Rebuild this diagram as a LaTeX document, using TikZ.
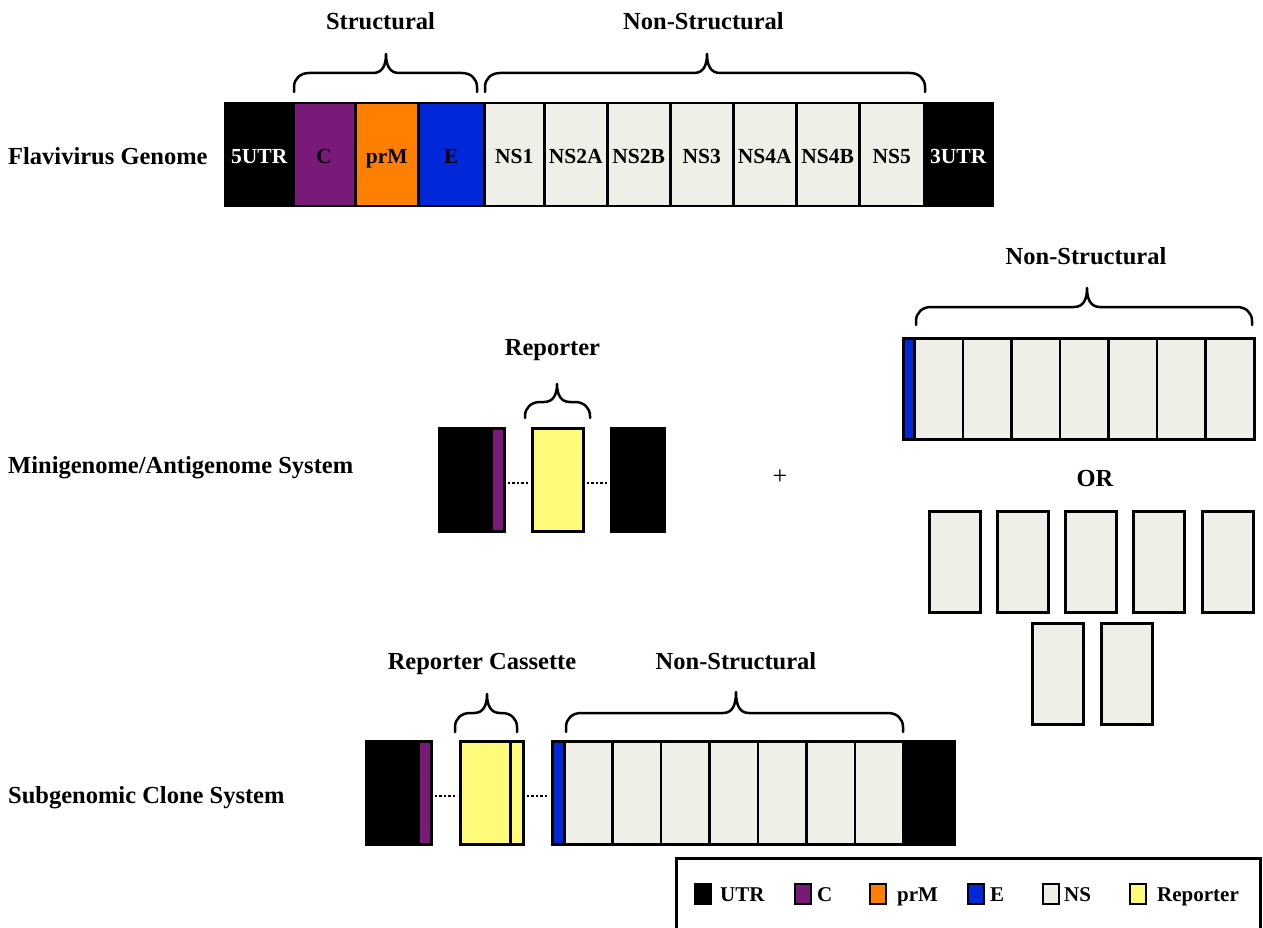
\documentclass[tikz,border=0pt]{standalone}
\usepackage{fontspec}
\setmainfont{Liberation Serif}
\definecolor{cpurple}{HTML}{7A1A78}
\definecolor{corange}{HTML}{FF7F00}
\definecolor{cblue}{HTML}{0028D8}
\definecolor{cns}{HTML}{EFEFE7}
\definecolor{cyellow}{HTML}{FFFB7A}
\tikzset{
  head/.style={font=\fontsize{24.5}{29}\selectfont\bfseries, inner sep=0pt, anchor=base},
  lab/.style={font=\fontsize{21.5}{25}\selectfont\bfseries, text height=17pt, text depth=0pt},
  box/.style={draw, line width=2.5pt, inner sep=0pt, anchor=north west, lab},
  bracestyle/.style={line width=2.5pt, line cap=round, line join=round},
  dots/.style={line width=2.5pt, dash pattern=on 2.5pt off 2pt},
  sw/.style={draw, line width=2pt, minimum width=16pt, minimum height=20pt, inner sep=0pt},
  leg/.style={font=\fontsize{21}{25}\selectfont\bfseries, inner sep=0pt, anchor=base west}
}
\newcommand{\bx}[7]{\node[box, fill=#5, minimum width=#3pt, minimum height=#4pt, #6] (#1) at (#2) {#7};}
\newcommand{\brc}[6]{\draw[bracestyle] (#1,#4) -- (#1,{#5+14}) .. controls (#1,{#5+6}) and ({#1+6},#5) .. ({#1+15},#5) -- ({#3-13},#5) .. controls ({#3-4},#5) and (#3,{#5-7}) .. (#3,#6) .. controls (#3,{#5-7}) and ({#3+4},#5) .. ({#3+13},#5) -- ({#2-15},#5) .. controls ({#2-6},#5) and (#2,{#5+6}) .. (#2,{#5+14}) -- (#2,#4);}
\begin{document}
\begin{tikzpicture}[x=1pt,y=-1pt]
\useasboundingbox (0,0) rectangle (1263,928);
\fill[white] (0,0) rectangle (1263,928);

% ---- Flavivirus genome ----
\node[head, anchor=base west] (lgen) at (8,165) {Flavivirus Genome};
\bx{g5}{224,102}{68}{103}{black}{text=white}{5UTR}
\bx{gc}{292,102}{62}{103}{cpurple}{}{C}
\bx{gprm}{354,102}{63}{103}{corange}{}{prM}
\bx{ge}{417,102}{66}{103}{cblue}{}{E}
\bx{gns1}{483,102}{60}{103}{cns}{}{NS1}
\bx{gns2a}{543,102}{63}{103}{cns}{}{NS2A}
\bx{gns2b}{606,102}{63}{103}{cns}{}{NS2B}
\bx{gns3}{669,102}{63}{103}{cns}{}{NS3}
\bx{gns4a}{732,102}{63}{103}{cns}{}{NS4A}
\bx{gns4b}{795,102}{63}{103}{cns}{}{NS4B}
\bx{gns5}{858,102}{65}{103}{cns}{}{NS5}
\bx{g3}{923,102}{68}{103}{black}{text=white}{3UTR}
\node[head] (hstr) at (380.5,30) {Structural};
\node[head] (hns1) at (703.5,30) {Non-Structural};
\brc{294}{477}{386}{92}{73}{54}
\brc{485}{925}{707}{92}{73}{54}

% ---- Minigenome ----
\node[head, anchor=base west] (lmini) at (8,473) {Minigenome/Antigenome System};
\bx{m5}{438,427}{52}{103}{black}{}{}
\bx{mc}{490,427}{13}{103}{cpurple}{}{}
\bx{mr}{531,427}{51}{103}{cyellow}{}{}
\bx{m3}{610,427}{53}{103}{black}{}{}
\draw[dots] ([yshift=-3pt,xshift=2pt]mc.east) -- ([yshift=-3pt,xshift=-2pt]mr.west);
\draw[dots] ([yshift=-3pt,xshift=2pt]mr.east) -- ([yshift=-3pt,xshift=-2pt]m3.west);
\node[head] (hrep) at (552.5,355) {Reporter};
\brc{525}{590}{557}{418}{402}{384}
\node[font=\fontsize{26}{30}\selectfont, inner sep=0pt] (plus) at (780,477) {+};

% ---- Right: non-structural ----
\node[head] (hns2) at (1086,264) {Non-Structural};
\brc{916}{1252}{1087}{325}{307}{288}
\bx{rb}{902,337}{11}{101}{cblue}{}{}
\foreach \k in {1,...,7} {\bx{rn\k}{{913+(\k-1)*48.57},337}{48.57}{101}{cns}{}{}}
\node[head] (hor) at (1095,486) {OR};
\bx{p1}{928,510}{51}{101}{cns}{}{}
\bx{p2}{996,510}{51}{101}{cns}{}{}
\bx{p3}{1064,510}{51}{101}{cns}{}{}
\bx{p4}{1132,510}{51}{101}{cns}{}{}
\bx{p5}{1201,510}{51}{101}{cns}{}{}
\bx{p6}{1031,622}{51}{101}{cns}{}{}
\bx{p7}{1100,622}{51}{101}{cns}{}{}

% ---- Subgenomic ----
\node[head, anchor=base west] (lsub) at (8,803) {Subgenomic Clone System};
\bx{s5}{365,740}{52}{103}{black}{}{}
\bx{sc}{417,740}{13}{103}{cpurple}{}{}
\bx{sr}{459,740}{50}{103}{cyellow}{}{}
\bx{sr2}{509,740}{13}{103}{cyellow}{}{}
\bx{se}{551,740}{12}{103}{cblue}{}{}
\foreach \k in {1,...,7} {\bx{sn\k}{{563+(\k-1)*48.43},740}{48.43}{103}{cns}{}{}}
\bx{s3}{902,740}{51}{103}{black}{}{}
\draw[dots] ([yshift=-3pt,xshift=2pt]sc.east) -- ([yshift=-3pt,xshift=-2pt]sr.west);
\draw[dots] ([yshift=-3pt,xshift=2pt]sr2.east) -- ([yshift=-3pt,xshift=-2pt]se.west);
\node[head] (hcas) at (482,669) {Reporter Cassette};
\node[head] (hns3) at (736,669) {Non-Structural};
\brc{455}{517}{487}{732}{713}{694}
\brc{566}{903}{736}{732}{713}{692}

% ---- Legend ----
\draw[line width=3pt] (676,940) -- (676,858) -- (1260,858) -- (1260,940);
\node[sw, fill=black] (kutr) at (703,894) {};
\node[leg] (tutr) at (720,901) {UTR};
\node[sw, fill=cpurple] (kc) at (803,894) {};
\node[leg] (tc) at (817,901) {C};
\node[sw, fill=corange] (kprm) at (878,894) {};
\node[leg] (tprm) at (897,901) {prM};
\node[sw, fill=cblue] (ke) at (976,894) {};
\node[leg] (te) at (990,901) {E};
\node[sw, fill=cns] (kns) at (1051,894) {};
\node[leg] (tns) at (1064,901) {NS};
\node[sw, fill=cyellow] (krep) at (1138,894) {};
\node[leg] (trep) at (1157,901) {Reporter};
\end{tikzpicture}
\end{document}
